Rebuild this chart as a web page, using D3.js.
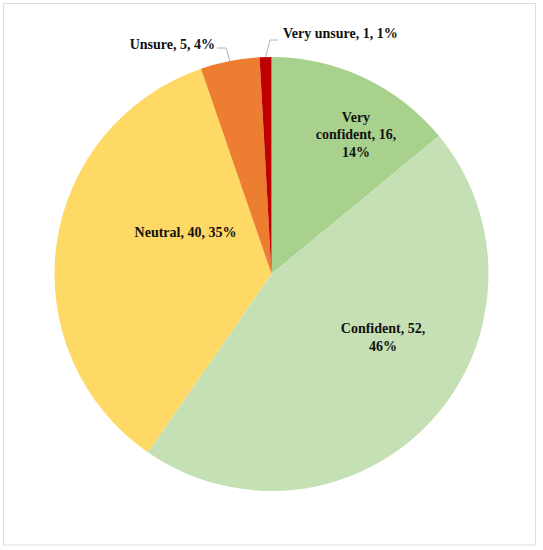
<!DOCTYPE html>
<html>
<head>
<meta charset="utf-8">
<script src="https://cdn.jsdelivr.net/npm/d3@7"></script>
<style>
  html, body { margin: 0; padding: 0; background: #fff; }
  svg { display: block; }
  text { font-family: "Liberation Serif", "DejaVu Serif", serif; font-weight: bold; fill: #111; }
</style>
</head>
<body>
<svg id="chart" width="543" height="550"></svg>
<script>
const categories = ["Very confident", "Confident", "Neutral", "Unsure", "Very unsure"];
const counts = [16, 52, 40, 5, 1];
const percents = ["14%", "46%", "35%", "4%", "1%"];
const colors = ["#A9D18E", "#C5E0B4", "#FFD966", "#ED7D31", "#C00000"];

// label layout (text line breaks and placement relative to pie centre)
const labelLines = [
  ["Very", "confident, 16,", "14%"],
  ["Confident, 52,", "46%"],
  ["Neutral, 40, 35%"],
  ["Unsure, 5, 4%"],
  ["Very unsure, 1, 1%"]
];
const labelPos = [[84.5, -140], [111.5, 63], [-86, -42], [-56.5, -230], [11.5, -241]];
const labelAnchor = ["middle", "middle", "middle", "end", "start"];
const leader = [null, null, null, { gap: 2, len: 9, dy: -1 }, { gap: 5, len: 8, dy: 2 }];

const cx = 271.5, cy = 274, R = 217;
const svg = d3.select("#chart");

svg.append("rect").attr("x", 3.5).attr("y", 3.5).attr("width", 532).attr("height", 541.5)
  .attr("fill", "none").attr("stroke", "#d9dde4").attr("stroke-width", 1);

const data = categories.map((c, i) => ({ cat: c, value: counts[i], i }));
const pie = d3.pie().value(d => d.value).sort(null);
const arcs = pie(data);
const arc = d3.arc().innerRadius(0).outerRadius(R);

const g = svg.append("g").attr("transform", `translate(${cx},${cy})`);
g.selectAll("path.slice").data(arcs).join("path")
  .attr("class", "slice")
  .attr("d", arc)
  .attr("fill", d => colors[d.data.i]);

const lineH = 17.5;
arcs.forEach(a => {
  const i = a.data.i;
  const [lx, ly] = labelPos[i];
  const lines = labelLines[i];
  const t = g.append("text")
    .attr("text-anchor", labelAnchor[i])
    .attr("font-size", 14);
  const y0 = ly - (lines.length - 1) * lineH / 2 + 5;
  lines.forEach((s, k) => {
    t.append("tspan").attr("x", lx).attr("y", y0 + k * lineH).text(s);
  });
  const L = leader[i];
  if (L) {
    const mid = (a.startAngle + a.endAngle) / 2;
    const ex = R * Math.sin(mid), ey = -R * Math.cos(mid);
    const side = labelAnchor[i] === "end" ? 1 : -1;
    const hx = lx + side * L.gap;
    const elbowX = hx + side * L.len;
    const yy = ly + 5 + L.dy;
    g.append("path")
      .attr("d", `M${ex},${ey}L${elbowX},${yy}L${hx},${yy}`)
      .attr("fill", "none").attr("stroke", "#a9b6c8").attr("stroke-width", 1);
  }
});
</script>
</body>
</html>
